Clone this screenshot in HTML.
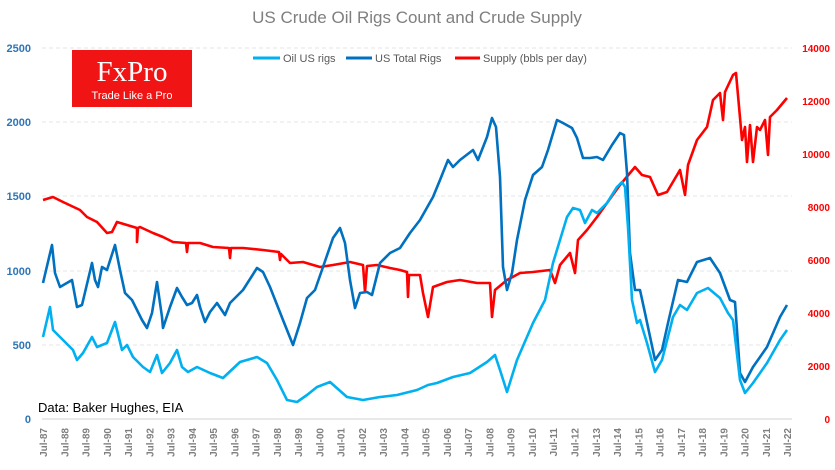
<!DOCTYPE html>
<html><head><meta charset="utf-8"><style>
body{margin:0;background:#fff;}
svg{display:block;font-family:"Liberation Sans",sans-serif;}
</style></head><body>
<svg width="835" height="470" viewBox="0 0 835 470">
<text x="417" y="23" text-anchor="middle" font-size="17" fill="#7f7f7f">US Crude Oil Rigs Count and Crude Supply</text>
<g stroke="#e4e4e4" stroke-dasharray="4,3" stroke-width="1">
<line x1="42" y1="48" x2="792" y2="48"/><line x1="42" y1="122" x2="792" y2="122"/><line x1="42" y1="196" x2="792" y2="196"/><line x1="42" y1="271" x2="792" y2="271"/><line x1="42" y1="345" x2="792" y2="345"/>
</g>
<line x1="42" y1="419" x2="792" y2="419" stroke="#d0d0d0"/>
<g font-size="11" fill="#2e75b6" font-weight="bold" text-anchor="end">
<text x="31" y="52">2500</text><text x="31" y="126">2000</text><text x="31" y="200">1500</text><text x="31" y="275">1000</text><text x="31" y="349">500</text><text x="31" y="423">0</text>
</g>
<g font-size="10" fill="#ff0000" font-weight="bold" text-anchor="end">
<text x="830" y="52">14000</text><text x="830" y="105">12000</text><text x="830" y="158">10000</text><text x="830" y="211">8000</text><text x="830" y="264">6000</text><text x="830" y="317">4000</text><text x="830" y="370">2000</text><text x="830" y="423">0</text>
</g>
<rect x="72" y="50" width="120" height="57" fill="#f01414"/>
<text x="132" y="81" text-anchor="middle" font-family="Liberation Serif,serif" font-size="29" fill="#fff">FxPro</text>
<text x="132" y="99" text-anchor="middle" font-size="11" fill="#fff">Trade Like a Pro</text>
<g font-size="11" fill="#595959">
<line x1="253" y1="58" x2="280" y2="58" stroke="#00b0f0" stroke-width="3"/><text x="283" y="62">Oil US rigs</text>
<line x1="346" y1="58" x2="372" y2="58" stroke="#0070c0" stroke-width="3"/><text x="375" y="62">US Total Rigs</text>
<line x1="455" y1="58" x2="480" y2="58" stroke="#ff0000" stroke-width="3"/><text x="483" y="62">Supply (bbls per day)</text>
</g>
<text x="38" y="412" font-size="13" fill="#000">Data: Baker Hughes, EIA</text>
<g fill="none" stroke-width="2.6" stroke-linejoin="round">
<polyline stroke="#ff0000" points="43,200 53,197 63,202 80,210 87,217 97,222 107,233 112,232 117,222 127,225 137,228 137,242 138,228 140,227 153,233 163,237 173,242 186,243 187,252 188,243 200,243 213,247 229,248 230,258 231,248 243,248 263,250 279,252 280,260 281,254 290,263 303,262 320,267 333,265 350,262 363,265 365,292 367,266 377,265 390,268 400,270 407,272 408,297 409,275 420,275 423,293 428,317 433,287 447,282 460,280 477,283 490,283 492,317 495,290 507,280 520,273 533,272 550,270 555,283 560,265 570,253 575,273 578,240 587,230 597,217 607,203 620,185 635,167 642,175 650,177 658,195 667,192 680,170 685,195 688,165 697,140 707,127 713,100 720,93 723,120 725,92 733,75 736,73 742,140 745,127 747,162 750,125 753,162 757,127 760,130 765,120 768,155 770,117 777,110 787,98"/>
<polyline stroke="#0070c0" points="43,283 52,245 55,273 60,287 72,280 77,307 82,305 92,263 95,280 98,287 102,267 107,270 115,245 120,270 125,293 132,300 137,310 142,320 147,328 152,313 157,282 162,317 163,328 170,307 177,288 182,297 187,305 192,303 197,295 200,307 205,322 210,312 217,303 225,315 230,303 243,290 257,268 263,272 270,287 283,320 293,345 300,323 307,298 315,290 323,267 333,238 340,228 345,243 350,280 355,308 360,293 367,292 372,295 380,263 390,253 400,248 410,233 420,220 433,197 440,180 448,160 453,167 460,160 473,150 478,160 487,137 492,118 496,127 500,177 503,267 507,290 512,273 517,240 525,200 533,175 542,167 548,150 557,120 563,123 572,128 577,138 583,158 590,158 597,157 603,160 612,145 620,133 624,135 627,173 630,253 635,290 640,290 645,313 655,360 662,350 668,323 678,280 687,282 697,262 710,258 720,273 730,300 735,302 740,373 745,382 753,367 767,347 780,317 787,305"/>
<polyline stroke="#00b0f0" points="43,337 50,307 53,330 63,340 73,350 77,360 83,353 92,337 97,347 107,343 115,322 122,350 127,345 133,357 143,367 150,372 157,355 162,373 170,363 177,350 182,367 188,372 197,367 210,373 223,378 240,362 257,357 267,363 277,380 287,400 297,402 307,395 317,387 330,382 347,397 363,400 380,397 397,395 417,390 428,385 437,383 453,377 470,373 487,362 495,355 500,370 507,392 517,360 533,323 545,300 553,263 560,240 567,217 573,208 580,210 585,223 592,210 597,213 607,203 617,187 622,182 625,187 628,227 632,300 637,323 640,320 647,343 655,372 662,360 673,317 680,305 687,310 697,293 708,288 720,298 728,313 733,320 740,380 745,393 753,383 767,363 780,340 787,330"/>
</g>
<g font-size="10" font-weight="bold" fill="#7f7f7f" text-anchor="end">
<text transform="translate(47.0,428) rotate(-90)">Jul-87</text>
<text transform="translate(68.3,428) rotate(-90)">Jul-88</text>
<text transform="translate(89.5,428) rotate(-90)">Jul-89</text>
<text transform="translate(110.8,428) rotate(-90)">Jul-90</text>
<text transform="translate(132.0,428) rotate(-90)">Jul-91</text>
<text transform="translate(153.3,428) rotate(-90)">Jul-92</text>
<text transform="translate(174.6,428) rotate(-90)">Jul-93</text>
<text transform="translate(195.8,428) rotate(-90)">Jul-94</text>
<text transform="translate(217.1,428) rotate(-90)">Jul-95</text>
<text transform="translate(238.3,428) rotate(-90)">Jul-96</text>
<text transform="translate(259.6,428) rotate(-90)">Jul-97</text>
<text transform="translate(280.9,428) rotate(-90)">Jul-98</text>
<text transform="translate(302.1,428) rotate(-90)">Jul-99</text>
<text transform="translate(323.4,428) rotate(-90)">Jul-00</text>
<text transform="translate(344.6,428) rotate(-90)">Jul-01</text>
<text transform="translate(365.9,428) rotate(-90)">Jul-02</text>
<text transform="translate(387.2,428) rotate(-90)">Jul-03</text>
<text transform="translate(408.4,428) rotate(-90)">Jul-04</text>
<text transform="translate(429.7,428) rotate(-90)">Jul-05</text>
<text transform="translate(450.9,428) rotate(-90)">Jul-06</text>
<text transform="translate(472.2,428) rotate(-90)">Jul-07</text>
<text transform="translate(493.5,428) rotate(-90)">Jul-08</text>
<text transform="translate(514.7,428) rotate(-90)">Jul-09</text>
<text transform="translate(536.0,428) rotate(-90)">Jul-10</text>
<text transform="translate(557.2,428) rotate(-90)">Jul-11</text>
<text transform="translate(578.5,428) rotate(-90)">Jul-12</text>
<text transform="translate(599.8,428) rotate(-90)">Jul-13</text>
<text transform="translate(621.0,428) rotate(-90)">Jul-14</text>
<text transform="translate(642.3,428) rotate(-90)">Jul-15</text>
<text transform="translate(663.5,428) rotate(-90)">Jul-16</text>
<text transform="translate(684.8,428) rotate(-90)">Jul-17</text>
<text transform="translate(706.1,428) rotate(-90)">Jul-18</text>
<text transform="translate(727.3,428) rotate(-90)">Jul-19</text>
<text transform="translate(748.6,428) rotate(-90)">Jul-20</text>
<text transform="translate(769.8,428) rotate(-90)">Jul-21</text>
<text transform="translate(791.1,428) rotate(-90)">Jul-22</text>
</g>
</svg>
</body></html>
